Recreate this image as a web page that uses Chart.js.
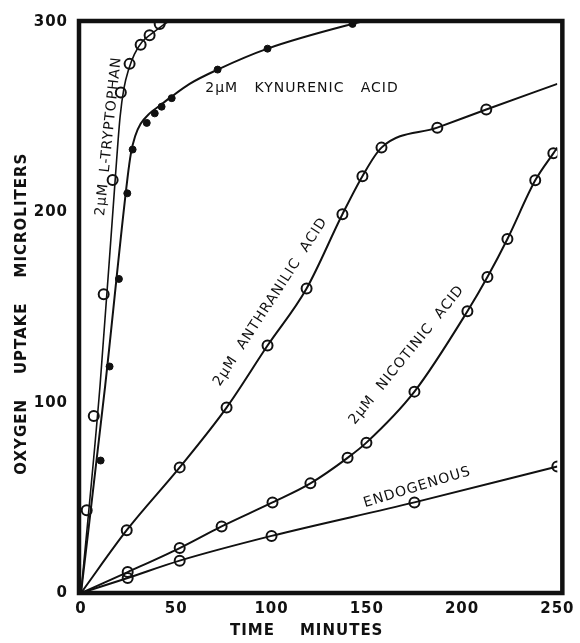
<!DOCTYPE html>
<html>
<head>
<meta charset="utf-8">
<script src="https://cdn.jsdelivr.net/npm/chart.js@4.4.1/dist/chart.umd.min.js"></script>
<style>
  html, body { margin: 0; padding: 0; background: #fff; }
</style>
</head>
<body>
<canvas id="uptakeChart" width="580" height="643"></canvas>
<script>
// oxygen uptake (microliters) against time (minutes)
const xTicks = [0, 50, 100, 150, 200, 250];
const yTicks = [0, 100, 200, 300];

// tryptophan and kynurenic: circles/dots sit beside the hand drawn curve,
// so the curve is kept as its own list of points
const tryptophanTime = [3, 6.7, 11.9, 16.6, 20.9, 25.5, 31.3, 36, 41.3];
const tryptophanO2 = [43.5, 93, 157, 217, 263, 278, 288, 293, 299];
const tryptophanCurveTime = [0, 10, 18, 20.5, 22.5, 25, 28, 32, 38, 44, 47];
const tryptophanCurveO2 = [0, 109, 218, 250, 265, 275, 283, 289.5, 294.5, 299, 301];

const kynurenicTime = [10.3, 15, 19.9, 24.3, 27.1, 34.5, 38.7, 42.3, 47.6, 71.7, 97.9, 142.5];
const kynurenicO2 = [69.6, 119, 165, 210, 233, 247, 252, 255.5, 260, 275, 286, 299];
const kynurenicCurveTime = [0, 12.7, 24.4, 26.2, 28.4, 31.3, 36, 41.3, 46.5, 57, 71.7, 97.9, 142.5, 151];
const kynurenicCurveO2 = [0, 109, 218, 231, 240, 246.5, 252, 256, 260, 267.5, 275, 286, 299, 301];

// "bare" = indexes that only anchor the drawn curve, no circle on the plot
const anthranilicTime = [0, 24, 51.8, 76.4, 97.9, 118.4, 137.2, 147.7, 157.7, 187, 212.7, 250];
const anthranilicO2 = [0, 33, 66, 97.4, 130, 160, 199, 219, 234, 244.5, 254, 267.5];
const anthranilicBare = [0, 11];

const nicotinicTime = [0, 24.5, 51.8, 73.8, 100.5, 120.4, 139.9, 149.8, 175, 202.8, 213.3, 223.8, 238.4, 247.9, 250];
const nicotinicO2 = [0, 11, 23.6, 35, 47.6, 57.6, 71, 79, 105.8, 148, 166, 186, 216.8, 231, 234];
const nicotinicBare = [0, 14];

const endogenousTime = [0, 24.5, 51.8, 100, 175, 250];
const endogenousO2 = [0, 7.9, 17, 30, 47.6, 66.5];
const endogenousBare = [0];

// curve labels, placed in data units
const curveLabels = [
    { text: '2µM  L-TRYPTOPHAN', x: 14.6, y: 240, angle: -84 },
    { text: '2µM   KYNURENIC   ACID', x: 116, y: 265, angle: 0 },
    { text: '2µM  ANTHRANILIC  ACID', x: 99.5, y: 153, angle: -57 },
    { text: '2µM  NICOTINIC  ACID', x: 171, y: 125, angle: -51 },
    { text: 'ENDOGENOUS', x: 176.5, y: 55.5, angle: -17 }
];

const ink = '#111';

function marks(times, values, filled) {
    return {
        data: times.map((t, i) => ({ x: t, y: values[i] })),
        showLine: false,
        pointStyle: 'circle',
        pointRadius: filled ? 3.5 : 5,
        pointBorderWidth: filled ? 1 : 2,
        pointBorderColor: ink,
        pointBackgroundColor: filled ? ink : 'rgba(0,0,0,0)'
    };
}

function curve(times, values, width) {
    return {
        data: times.map((t, i) => ({ x: t, y: values[i] })),
        borderColor: ink,
        borderWidth: width,
        cubicInterpolationMode: 'monotone',
        pointRadius: 0
    };
}

function series(times, values, bare) {
    return {
        data: times.map((t, i) => ({ x: t, y: values[i] })),
        borderColor: ink,
        borderWidth: 2,
        cubicInterpolationMode: 'monotone',
        pointStyle: 'circle',
        pointRadius: c => bare.includes(c.dataIndex) ? 0 : 5,
        pointBorderWidth: 2,
        pointBorderColor: ink,
        pointBackgroundColor: 'rgba(0,0,0,0)'
    };
}

// thick frame + hand lettered curve names
const framePlugin = {
    id: 'frame',
    beforeDraw(chart) {
        chart.ctx.letterSpacing = '1px';
    },
    afterDatasetsDraw(chart) {
        const { ctx, chartArea: a, scales } = chart;
        ctx.save();
        ctx.strokeStyle = ink;
        ctx.lineWidth = 4.5;
        // frame on the original stands a little right of the 250 mark
        ctx.strokeRect(a.left - 2, a.top - 1, a.right - a.left + 7, a.bottom - a.top + 1);
        ctx.fillStyle = ink;
        ctx.font = '14px "DejaVu Sans"';
        ctx.textAlign = 'center';
        ctx.textBaseline = 'middle';
        curveLabels.forEach(l => {
            ctx.save();
            ctx.translate(scales.x.getPixelForValue(l.x), scales.y.getPixelForValue(l.y));
            ctx.rotate(l.angle * Math.PI / 180);
            ctx.fillText(l.text, 0, 0);
            ctx.restore();
        });
        ctx.restore();
    }
};

const tickFont = { family: 'DejaVu Sans', size: 15, weight: 'bold' };
const titleFont = { family: 'DejaVu Sans', size: 15, weight: 'bold' };

new Chart(document.getElementById('uptakeChart').getContext('2d'), {
    type: 'line',
    data: {
        datasets: [
            curve(tryptophanCurveTime, tryptophanCurveO2, 1.6),
            marks(tryptophanTime, tryptophanO2, false),
            curve(kynurenicCurveTime, kynurenicCurveO2, 2),
            marks(kynurenicTime, kynurenicO2, true),
            series(anthranilicTime, anthranilicO2, anthranilicBare),
            series(nicotinicTime, nicotinicO2, nicotinicBare),
            series(endogenousTime, endogenousO2, endogenousBare)
        ]
    },
    options: {
        responsive: false,
        animation: false,
        events: [],
        layout: { padding: { top: 20, right: 22, left: 0, bottom: 0 } },
        plugins: {
            legend: { display: false },
            tooltip: { enabled: false }
        },
        scales: {
            x: {
                type: 'linear',
                min: 0,
                max: 250,
                afterBuildTicks: s => { s.ticks = xTicks.map(v => ({ value: v })); },
                afterFit: s => { s.height = 50; },
                grid: { display: false, drawTicks: false },
                border: { display: false },
                ticks: { color: ink, font: tickFont, padding: 7 },
                title: {
                    display: true,
                    text: 'TIME    MINUTES    ',
                    color: ink,
                    font: titleFont,
                    padding: { top: 0, bottom: 3 }
                }
            },
            y: {
                type: 'linear',
                min: 0,
                max: 300,
                afterBuildTicks: s => { s.ticks = yTicks.map(v => ({ value: v })); },
                afterFit: s => { s.width = 81; },
                grid: { display: false, drawTicks: false },
                border: { display: false },
                ticks: { color: ink, font: tickFont, padding: 13 },
                title: {
                    display: true,
                    text: 'OXYGEN    UPTAKE    MICROLITERS  ',
                    color: ink,
                    font: titleFont,
                    padding: { top: 13, bottom: 0 }
                }
            }
        }
    },
    plugins: [framePlugin]
});
</script>
</body>
</html>
